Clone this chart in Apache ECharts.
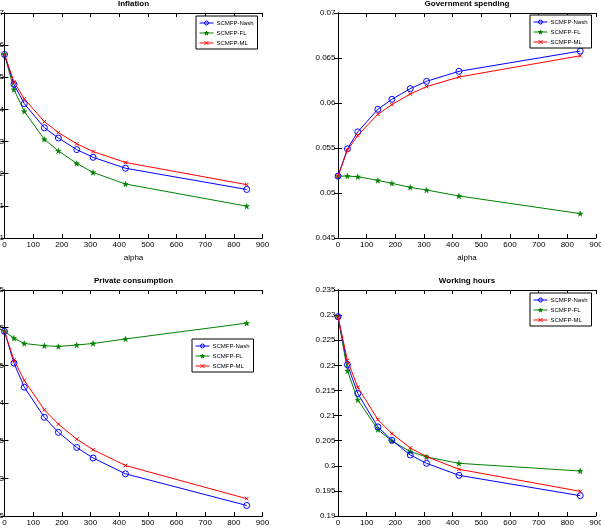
<!DOCTYPE html>
<html>
<head>
<meta charset="utf-8">
<script src="https://cdn.jsdelivr.net/npm/echarts@6/dist/echarts.min.js"></script>
<style>
html,body{margin:0;padding:0;background:#fff;}
#chart{width:601px;height:529px;}
</style>
</head>
<body>
<div id="chart"></div>
<script>
const alpha = [0, 33, 69, 139, 188, 252, 309, 422, 845];
const seriesNames = ['SCMFP-Nash', 'SCMFP-FL', 'SCMFP-ML'];
const panelTitles = ['Inflation', 'Government spending', 'Private consumption', 'Working hours'];

const inflNash = [0.01571, 0.01478, 0.01418, 0.01343, 0.01311, 0.01275, 0.01251, 0.01217, 0.01151];
const inflFL   = [0.01571, 0.01462, 0.01394, 0.01307, 0.01271, 0.01232, 0.01204, 0.01168, 0.01099];
const inflML   = [0.01571, 0.01486, 0.01433, 0.01362, 0.01328, 0.01293, 0.01269, 0.01235, 0.01166];

const govNash = [0.05188, 0.05491, 0.05679, 0.05930, 0.06041, 0.06159, 0.06241, 0.06352, 0.06577];
const govFL   = [0.05188, 0.05188, 0.05181, 0.05140, 0.05107, 0.05063, 0.05033, 0.04967, 0.04771];
const govML   = [0.05188, 0.05476, 0.05639, 0.05875, 0.05982, 0.06100, 0.06182, 0.06289, 0.06525];

const consNash = [0.17495, 0.17453, 0.17421, 0.17381, 0.17361, 0.17341, 0.17327, 0.17306, 0.17264];
const consFL   = [0.17495, 0.17486, 0.17479, 0.17476, 0.17475, 0.17477, 0.17479, 0.17485, 0.17506];
const consML   = [0.17495, 0.17457, 0.17430, 0.17391, 0.17372, 0.17352, 0.17338, 0.17317, 0.17273];

const hoursNash = [0.22968, 0.22011, 0.21439, 0.20774, 0.20508, 0.20215, 0.20049, 0.19810, 0.19404];
const hoursFL   = [0.22968, 0.21891, 0.21312, 0.20721, 0.20495, 0.20282, 0.20176, 0.20049, 0.19896];
const hoursML   = [0.22968, 0.22097, 0.21565, 0.20920, 0.20641, 0.20355, 0.20182, 0.19930, 0.19491];

const yMins = [0.01, 0.045, 0.1725, 0.19];
const yMaxs = [0.017, 0.07, 0.1755, 0.235];
const yIntervals = [0.001, 0.005, 0.0005, 0.005];
const xMin = 0, xMax = 900, xInterval = 100;

const panelData = [
  [inflNash, inflFL, inflML],
  [govNash, govFL, govML],
  [consNash, consFL, consML],
  [hoursNash, hoursFL, hoursML]
];

// layout (pixels)
const grids = [
  {left: 4.5, top: 13, width: 258, height: 225},
  {left: 338, top: 13, width: 258, height: 225},
  {left: 4.5, top: 290, width: 258, height: 226},
  {left: 338, top: 290, width: 258, height: 226}
];
const legendPos = [
  {left: 196, top: 16},
  {left: 530, top: 15},
  {left: 192, top: 339},
  {left: 530, top: 293}
];
const titleTop = [0, 0, 277, 277];

const FONT = '"Liberation Sans", Arial, Helvetica, sans-serif';
const colors = ['#0000ff', '#008000', '#ff0000'];
const STAR = 'path://M50,0L61,35L98,35L68,57L79,91L50,70L21,91L32,57L2,35L39,35Z';
const XMARK = 'path://M0,0L10,10M10,0L0,10';

const option = {
  animation: false,
  backgroundColor: '#fff',
  title: [], grid: [], xAxis: [], yAxis: [], legend: [], series: []
};

for (let p = 0; p < 4; p++) {
  const g = grids[p];
  option.grid.push(Object.assign({outerBoundsMode: 'none', containLabel: false}, g));
  option.title.push({
    text: panelTitles[p],
    left: g.left + g.width / 2,
    top: titleTop[p],
    textAlign: 'center',
    padding: 0,
    textStyle: {fontFamily: FONT, fontSize: 8, fontWeight: 'bold', color: '#000'}
  });
  const tick = {show: true, inside: true, length: 4, lineStyle: {color: '#000', width: 1}};
  const line = {show: true, lineStyle: {color: '#000', width: 1}};
  option.xAxis.push({
    type: 'value', gridIndex: p, min: xMin, max: xMax, interval: xInterval,
    position: 'bottom',
    name: 'alpha', nameLocation: 'middle', nameGap: 16,
    nameTextStyle: {fontFamily: FONT, fontSize: 8, color: '#000'},
    axisLine: line, axisTick: tick, splitLine: {show: false},
    axisLabel: {fontFamily: FONT, fontSize: 8, color: '#000', margin: 3, showMinLabel: true, showMaxLabel: true}
  });
  option.xAxis.push({
    type: 'value', gridIndex: p, min: xMin, max: xMax, interval: xInterval,
    position: 'top', axisLine: line, axisTick: tick, splitLine: {show: false},
    axisLabel: {show: false}
  });
  option.yAxis.push({
    type: 'value', gridIndex: p, min: yMins[p], max: yMaxs[p], interval: yIntervals[p],
    position: 'left', axisLine: line, axisTick: tick, splitLine: {show: false},
    axisLabel: {fontFamily: FONT, fontSize: 8, color: '#000', margin: (p % 2 === 0 ? 0.5 : 2.5), showMinLabel: true, showMaxLabel: true}
  });
  option.yAxis.push({
    type: 'value', gridIndex: p, min: yMins[p], max: yMaxs[p], interval: yIntervals[p],
    position: 'right', axisLine: line, axisTick: tick, splitLine: {show: false},
    axisLabel: {show: false}
  });
  option.legend.push(Object.assign({
    orient: 'vertical',
    data: seriesNames,
    itemWidth: 14, itemHeight: 5, itemGap: 4,
    padding: [4, 4, 3, 3],
    borderColor: '#000', borderWidth: 1, borderRadius: 0,
    backgroundColor: '#fff',
    selectedMode: false,
    lineStyle: {width: 1},
    itemStyle: {borderWidth: 1},
    textStyle: {fontFamily: FONT, fontSize: 6, color: '#000', padding: [0, 0, 0, -2]}
  }, legendPos[p]));

  const d = panelData[p];
  const mk = (vals) => alpha.map((a, i) => [a, vals[i]]);
  option.series.push({
    name: seriesNames[0], type: 'line', xAxisIndex: 2 * p, yAxisIndex: 2 * p,
    data: mk(d[0]), symbol: 'circle', symbolSize: 6, z: 3,
    lineStyle: {color: colors[0], width: 1},
    itemStyle: {color: 'rgba(255,255,255,0)', borderColor: colors[0], borderWidth: 1}
  });
  option.series.push({
    name: seriesNames[1], type: 'line', xAxisIndex: 2 * p, yAxisIndex: 2 * p,
    data: mk(d[1]), symbol: STAR, symbolSize: 5.5, z: 2,
    lineStyle: {color: colors[1], width: 1},
    itemStyle: {color: colors[1], borderColor: colors[1], borderWidth: 0.5}
  });
  option.series.push({
    name: seriesNames[2], type: 'line', xAxisIndex: 2 * p, yAxisIndex: 2 * p,
    data: mk(d[2]), symbol: XMARK, symbolSize: 3.5, z: 4,
    lineStyle: {color: colors[2], width: 1},
    itemStyle: {color: colors[2], borderColor: colors[2], borderWidth: 1}
  });
}

const chart = echarts.init(document.getElementById('chart'), null, {renderer: 'canvas'});
chart.setOption(option);
</script>
</body>
</html>
